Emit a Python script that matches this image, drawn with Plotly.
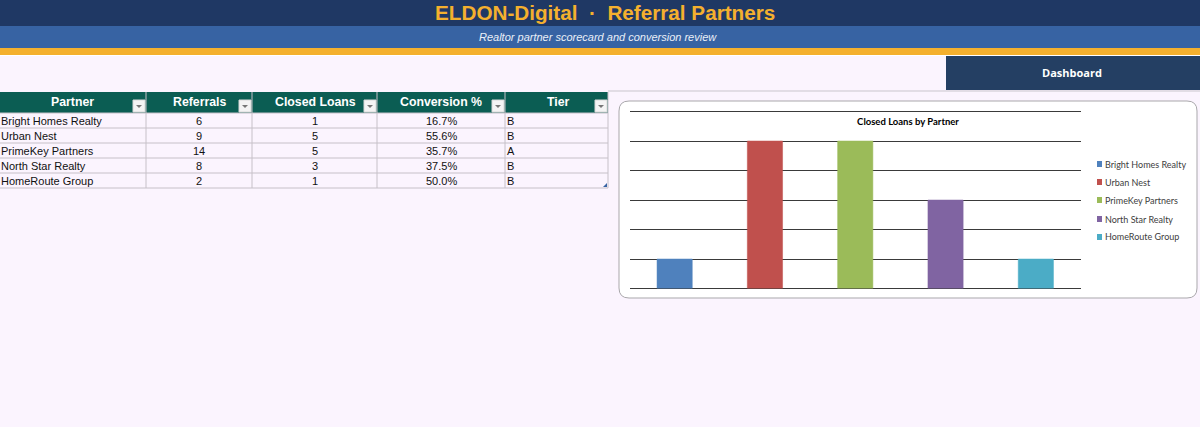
import plotly.graph_objects as go

W, H = 1200, 427

partners = ["Bright Homes Realty", "Urban Nest", "PrimeKey Partners", "North Star Realty", "HomeRoute Group"]
referrals = ["6", "9", "14", "8", "2"]
closed_loans = [1, 5, 5, 3, 1]
conversion = ["16.7%", "55.6%", "35.7%", "37.5%", "50.0%"]
tiers = ["B", "B", "A", "B", "B"]
headers = ["Partner", "Referrals", "Closed Loans", "Conversion %", "Tier"]
bar_colors = ["#4F81BD", "#C0504D", "#9BBB59", "#8064A2", "#4BACC6"]
col_edges = [0, 146, 252, 377, 505, 608]

BG = "#FBF4FE"


def px(x):
    return x / W


def py(y):
    return 1 - y / H


def rect(x0, y0, x1, y1, fill, line=None, lw=0, layer="below"):
    return dict(type="rect", xref="paper", yref="paper", x0=px(x0), x1=px(x1), y0=py(y0), y1=py(y1),
                fillcolor=fill, line=dict(color=line or fill, width=lw), layer=layer)


def hline(x0, x1, y, color, lw=1):
    return dict(type="line", xref="paper", yref="paper", x0=px(x0), x1=px(x1), y0=py(y), y1=py(y),
                line=dict(color=color, width=lw), layer="below")


def vline(x, y0, y1, color, lw=1):
    return dict(type="line", xref="paper", yref="paper", x0=px(x), x1=px(x), y0=py(y0), y1=py(y1),
                line=dict(color=color, width=lw), layer="below")


def text(x, y, s, size, color, anchor="center", bold=False, italic=False, family="Liberation Sans"):
    if bold:
        s = f"<b>{s}</b>"
    if italic:
        s = f"<i>{s}</i>"
    return dict(xref="paper", yref="paper", x=px(x), y=py(y), text=s, showarrow=False, xanchor=anchor,
                yanchor="middle", font=dict(size=size, color=color, family=family))


shapes = [
    rect(0, 0, W, 26, "#1F3864"),
    rect(0, 26, W, 48, "#3763A3"),
    rect(0, 48, W, 55, "#F4B02E"),
    rect(0, 55, W, 56, "#FFFFFF"),
    rect(946, 56, W, 90, "#243F63"),
    hline(608, W, 91, "#C9C5CC"),
]

# rounded chart card
cx0, cy0, cx1, cy1, r = 619, 101, 1197, 298, 10
card = (f"M {px(cx0 + r)},{py(cy0)} L {px(cx1 - r)},{py(cy0)} Q {px(cx1)},{py(cy0)} {px(cx1)},{py(cy0 + r)} "
        f"L {px(cx1)},{py(cy1 - r)} Q {px(cx1)},{py(cy1)} {px(cx1 - r)},{py(cy1)} "
        f"L {px(cx0 + r)},{py(cy1)} Q {px(cx0)},{py(cy1)} {px(cx0)},{py(cy1 - r)} "
        f"L {px(cx0)},{py(cy0 + r)} Q {px(cx0)},{py(cy0)} {px(cx0 + r)},{py(cy0)} Z")
shapes.append(dict(type="path", xref="paper", yref="paper", path=card, fillcolor="#FFFFFF",
                   line=dict(color="#A9A7AB", width=1), layer="below"))

# table
HDR_TOP, HDR_BOT, ROW_H = 92, 113, 15
shapes.append(rect(0, HDR_TOP, col_edges[-1], HDR_BOT, "#0B5D53"))
n = len(partners)
for i in range(n + 1):
    shapes.append(hline(0, col_edges[-1], HDR_BOT + i * ROW_H, "#C6C0C8"))
for e in col_edges[1:]:
    shapes.append(vline(e, HDR_TOP, HDR_BOT + n * ROW_H, "#C6C0C8"))

annotations = [
    text(605, 12.5, "ELDON-Digital  ·  Referral Partners", 20.7, "#F4B02E", bold=True),
    text(598, 37.5, "Realtor partner scorecard and conversion review", 11, "#EAF0F8", italic=True),
    text(1072, 73, "Dashboard", 11, "#FFFFFF", bold=True, family="Open Sans"),
]

header_centers = [72, 199, 315, 441, 558]
for h, c, e in zip(headers, header_centers, col_edges[1:]):
    annotations.append(text(c, 102.5, h, 12.3, "#FFFFFF", bold=True))
    bx1 = e - 1
    bx0 = bx1 - 12
    shapes.append(rect(bx0, 100, bx1, 112, "#F4F4F4", "#D8D8D8", 1))
    mx = (bx0 + bx1) / 2
    shapes.append(dict(type="path", xref="paper", yref="paper",
                       path=f"M {px(mx - 3)},{py(105)} L {px(mx + 3)},{py(105)} L {px(mx)},{py(108)} Z",
                       fillcolor="#777777", line=dict(width=0), layer="below"))

data_centers = [199, 315, 441]
for i in range(n):
    y = HDR_BOT + (i + 0.5) * ROW_H + 0.5
    annotations.append(text(-1, y, partners[i], 11, "#111111", anchor="left"))
    annotations.append(text(data_centers[0], y, referrals[i], 11, "#111111"))
    annotations.append(text(data_centers[1], y, str(closed_loans[i]), 11, "#111111"))
    annotations.append(text(data_centers[2], y, conversion[i], 11, "#111111"))
    annotations.append(text(505, y, tiers[i], 11, "#111111", anchor="left"))

# table resize handle
shapes.append(dict(type="path", xref="paper", yref="paper",
                   path=f"M {px(607)},{py(183)} L {px(607)},{py(187)} L {px(603)},{py(187)} Z",
                   fillcolor="#3763A3", line=dict(width=0), layer="below"))

# legend drawn by hand so its swatches can be small
legend_ys = [164, 182, 200, 219, 237]
for name, color, y in zip(partners, bar_colors, legend_ys):
    shapes.append(rect(1097, y - 3, 1102, y + 3, color))
    annotations.append(text(1103, y, name, 9, "#404040", anchor="left", family="Lato"))

fig = go.Figure()
for name, val, color in zip(partners, closed_loans, bar_colors):
    fig.add_trace(go.Bar(x=[name], y=[val], name=name, width=0.39,
                         marker=dict(color=color, line=dict(color=color, width=0.5))))

AXIS_BOTTOM = 288.5
UNIT = 29.5
Y_MAX = 6.1
fig.update_layout(
    width=W, height=H,
    margin=dict(l=0, r=0, t=0, b=0, autoexpand=False),
    paper_bgcolor=BG, plot_bgcolor="rgba(0,0,0,0)",
    barmode="overlay",
    showlegend=False,
    title=dict(text="<b>Closed Loans by Partner</b>", xref="paper", yref="paper", x=908 / W, y=1 - 121.5 / H,
               xanchor="center", yanchor="middle",
               font=dict(size=9.5, family="Lato", color="#000000")),
    xaxis=dict(domain=[629.5 / W, 1081 / W], categoryorder="array", categoryarray=partners,
               showticklabels=False, ticks="", showgrid=False, zeroline=False,
               showline=False, fixedrange=True),
    yaxis=dict(domain=[1 - AXIS_BOTTOM / H, 1 - (AXIS_BOTTOM - Y_MAX * UNIT) / H], range=[0, Y_MAX], tick0=0, dtick=1,
               showticklabels=False, ticks="",
               showgrid=True, gridcolor="#3A3A3A", gridwidth=1, zeroline=True, zerolinecolor="#3A3A3A",
               zerolinewidth=1, showline=False),
    shapes=shapes,
    annotations=annotations,
)

fig.write_html("out.html", config=dict(displayModeBar=False),
               post_script="document.body.style.margin='0';document.body.style.background='#FBF4FE';")
